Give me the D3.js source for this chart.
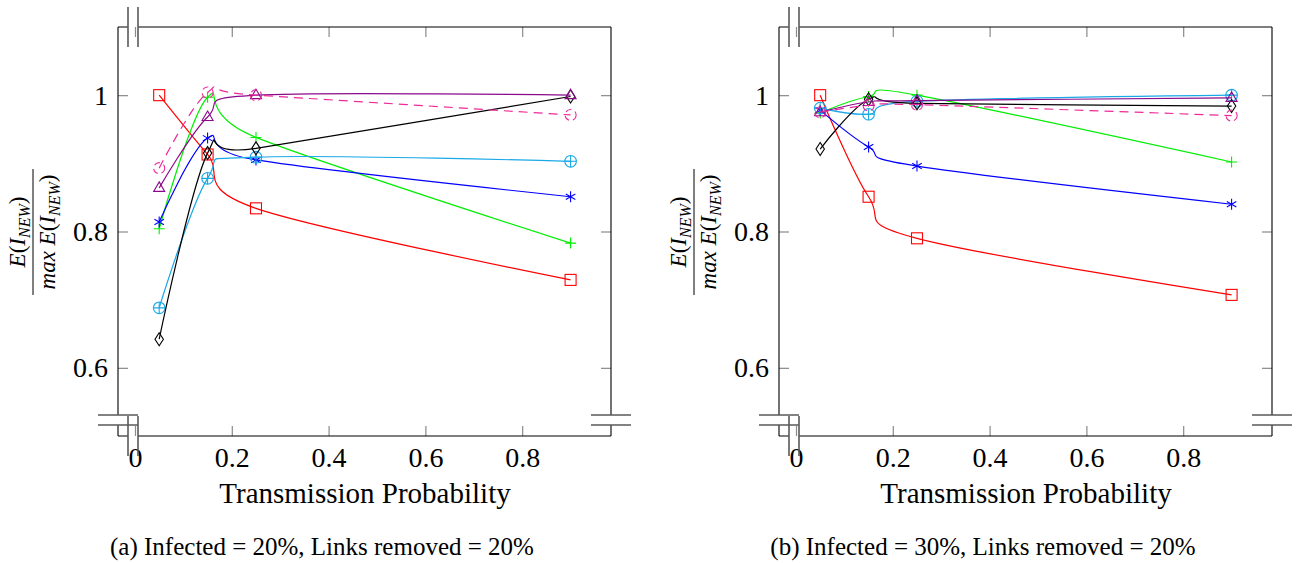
<!DOCTYPE html>
<html>
<head>
<meta charset="utf-8">
<script src="https://cdn.jsdelivr.net/npm/d3@7"></script>
<style>
  body { margin: 0; background: #fff; }
  svg text { font-family: "Liberation Serif", "DejaVu Serif", serif; }
</style>
</head>
<body>
<div class="chart"></div>
<script>
// Data
var probs = [0.05, 0.15, 0.25, 0.9];
var xTicks = [0, 0.2, 0.4, 0.6, 0.8];
var yTicks = [0.6, 0.8, 1];

// (a) Infected = 20%
var redA    = [1.0, 0.913, 0.834, 0.729];
var greenA  = [0.804, 0.997, 0.938, 0.783];
var blueA   = [0.814, 0.937, 0.905, 0.851];
var cyanA   = [0.688, 0.878, 0.909, 0.903];
var blackA  = [0.642, 0.915, 0.922, 0.998];
var purpleA = [0.864, 0.968, 1.0, 1.0];
var pinkA   = [0.893, 1.004, 1.0, 0.971];

// (b) Infected = 30%
var redB    = [1.0, 0.851, 0.790, 0.707];
var greenB  = [0.974, 0.998, 1.0, 0.902];
var blueB   = [0.978, 0.924, 0.896, 0.840];
var cyanB   = [0.981, 0.972, 0.991, 1.0];
var blackB  = [0.921, 0.994, 0.988, 0.984];
var purpleB = [0.975, 0.990, 0.992, 0.996];
var pinkB   = [0.975, 0.985, 0.986, 0.970];

var captions = ["(a) Infected = 20%, Links removed = 20%",
                "(b) Infected = 30%, Links removed = 20%"];

var svgWidth = 1296;
var svgHeight = 563;

// plot box of one panel
var box = { left: 118, top: 27 };
var width = 493;
var height = 409;
var panelShift = 661;

var svg = d3.select(".chart")
  .append("svg")
  .attr("width", svgWidth)
  .attr("height", svgHeight);

function styleFor(name, values) {
  var s = {
    red:    { color: "#ff0000", mark: "square" },
    green:  { color: "#00ee00", mark: "plus" },
    blue:   { color: "#0000ff", mark: "asterisk" },
    cyan:   { color: "#1aa8e6", mark: "oplus" },
    black:  { color: "#000000", mark: "diamond" },
    purple: { color: "#8b0a8b", mark: "triangle" },
    pink:   { color: "#ee2a9a", mark: "circle", dash: "9,6" }
  }[name];
  return { name: name, color: s.color, mark: s.mark, dash: s.dash, values: values };
}

function markerPath(type) {
  if (type === "plus") return "M-5.5,0H5.5M0,-5.5V5.5";
  if (type === "asterisk") {
    var p = "";
    [90, 30, 150].forEach(function(a) {
      var r = a * Math.PI / 180, dx = 5.5 * Math.cos(r), dy = 5.5 * Math.sin(r);
      p += "M" + (-dx) + "," + (-dy) + "L" + dx + "," + dy;
    });
    return p;
  }
  if (type === "diamond") return "M0,-6.5L4.2,0L0,6.5L-4.2,0Z";
  if (type === "triangle") return "M0,-6L5.5,3.5L-5.5,3.5Z";
  return null;
}

function drawPanel(index, seriesList) {
  var g = svg.append("g")
    .attr("transform", `translate(${box.left + index * panelShift}, ${box.top})`);

  var x = d3.scaleLinear().domain([-0.0351, 0.9835]).range([0, width]);
  var y = d3.scaleLinear().domain([0.5, 1.1]).range([height, 0]);

  // ticks (inside, grey)
  var xAxis = d3.axisBottom(x).tickValues(xTicks).tickSizeInner(-10).tickSizeOuter(0)
    .tickPadding(11).tickFormat(d3.format("~g"));
  var gx = g.append("g").attr("transform", `translate(0,${height})`).call(xAxis);
  var gxt = g.append("g").call(d3.axisTop(x).tickValues(xTicks).tickSizeInner(-10).tickSizeOuter(0).tickFormat(""));
  var gy = g.append("g").call(d3.axisLeft(y).tickValues(yTicks).tickSizeInner(-10).tickSizeOuter(0)
    .tickPadding(10).tickFormat(d3.format("~g")));
  var gyr = g.append("g").attr("transform", `translate(${width},0)`)
    .call(d3.axisRight(y).tickValues(yTicks).tickSizeInner(-10).tickSizeOuter(0).tickFormat(""));

  [gx, gxt, gy, gyr].forEach(function(a) {
    a.select(".domain").remove();
    a.selectAll(".tick line").attr("stroke", "#8a8a8a").attr("stroke-width", 1.2);
    a.selectAll(".tick text").attr("fill", "#000").style("font-size", "28px")
      .style("font-family", "'Liberation Serif', serif");
  });

  // axis frame with the discontinuity breaks
  var yb1 = height - 21, yb2 = height - 11;
  var frame = "M0,0H10M20,0H" + width +
    "M0," + height + "H10M20," + height + "H" + width +
    "M0,0V" + yb1 + "M0," + yb2 + "V" + height +
    "M" + width + ",0V" + yb1 + "M" + width + "," + yb2 + "V" + height;
  g.append("path").attr("d", frame).attr("fill", "none")
    .attr("stroke", "#000").attr("stroke-width", 1.1);

  var breaks = "M10,-20V20M20,-20V20" +
    "M10," + (height - 20) + "V" + (height + 20) + "M20," + (height - 20) + "V" + (height + 20) +
    "M-20," + yb1 + "H20M-20," + yb2 + "H20" +
    "M" + (width - 20) + "," + yb1 + "H" + (width + 20) +
    "M" + (width - 20) + "," + yb2 + "H" + (width + 20);
  g.append("path").attr("d", breaks).attr("fill", "none")
    .attr("stroke", "#5a5a5a").attr("stroke-width", 1.6);

  // smooth lines, close to pgfplots "smooth"
  var line = d3.line()
    .x(function(d, i) { return x(probs[i]); })
    .y(function(d) { return y(d); })
    .curve(d3.curveCardinal.tension(0));

  seriesList.forEach(function(s) {
    g.append("path")
      .attr("d", line(s.values))
      .attr("fill", "none")
      .attr("stroke", s.color)
      .attr("stroke-width", 1.2)
      .attr("stroke-dasharray", s.dash || null);

    var marks = g.append("g").attr("class", "marks-" + s.name);
    s.values.forEach(function(v, i) {
      var mx = x(probs[i]), my = y(v);
      var m = marks.append("g").attr("transform", `translate(${mx},${my})`)
        .attr("fill", "none").attr("stroke", s.color).attr("stroke-width", 1.1);
      if (s.mark === "square") {
        m.append("rect").attr("x", -5.5).attr("y", -5.5).attr("width", 11).attr("height", 11);
      } else if (s.mark === "oplus") {
        m.append("circle").attr("r", 5.8);
        m.append("path").attr("d", "M-5.8,0H5.8M0,-5.8V5.8");
      } else if (s.mark === "circle") {
        m.append("circle").attr("r", 5.5).attr("stroke-dasharray", "6,4");
      } else {
        m.append("path").attr("d", markerPath(s.mark));
      }
    });
  });

  // y label: E(I_NEW) / max E(I_NEW)
  var yl = svg.append("g")
    .attr("transform", `translate(${33 + index * panelShift}, 232) rotate(-90)`)
    .style("font-size", "23px");
  yl.append("line").attr("x1", -63).attr("x2", 63).attr("stroke", "#000").attr("stroke-width", 1);
  function fracText(y0, prefix) {
    var t = yl.append("text").attr("y", y0).attr("text-anchor", "middle");
    if (prefix) t.append("tspan").style("font-style", "italic").text(prefix);
    t.append("tspan").style("font-style", "italic").text("E");
    t.append("tspan").text("(");
    t.append("tspan").style("font-style", "italic").text("I");
    t.append("tspan").style("font-style", "italic").style("font-size", "16px").attr("dy", 5).text("NEW");
    t.append("tspan").attr("dy", -5).text(")");
  }
  fracText(-8, null);
  fracText(22, "max ");

  // x label
  svg.append("text")
    .attr("x", box.left + index * panelShift + 247)
    .attr("y", 503)
    .attr("text-anchor", "middle")
    .style("font-size", "29px")
    .text("Transmission Probability");

  // caption
  svg.append("text")
    .attr("x", box.left + index * panelShift + 204)
    .attr("y", 555)
    .attr("text-anchor", "middle")
    .style("font-size", "25px")
    .text(captions[index]);
}

drawPanel(0, [
  styleFor("red", redA), styleFor("green", greenA), styleFor("blue", blueA),
  styleFor("cyan", cyanA), styleFor("black", blackA), styleFor("purple", purpleA),
  styleFor("pink", pinkA)
]);
drawPanel(1, [
  styleFor("red", redB), styleFor("green", greenB), styleFor("blue", blueB),
  styleFor("cyan", cyanB), styleFor("black", blackB), styleFor("purple", purpleB),
  styleFor("pink", pinkB)
]);
</script>
</body>
</html>
